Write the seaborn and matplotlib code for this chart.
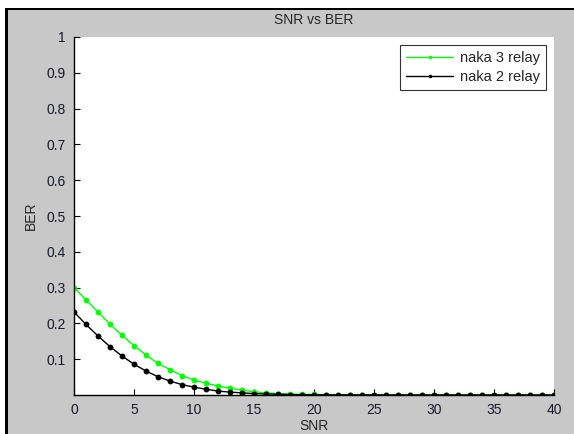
import matplotlib
matplotlib.use("Agg")
import matplotlib.pyplot as plt
import matplotlib.patches as mpatches
import seaborn as sns
import pandas as pd
import numpy as np

snr = list(range(0, 41))
naka3 = [0.300, 0.266, 0.232, 0.198, 0.167, 0.138, 0.112, 0.088, 0.071, 0.054,
         0.042, 0.033, 0.025, 0.019, 0.014, 0.009, 0.006, 0.004, 0.003, 0.002,
         0.0015, 0.001, 0.0008, 0.0006, 0.0005, 0.0004, 0.0003, 0.0002, 0.0002, 0.0001,
         0.0001, 0.0001, 0.0, 0.0, 0.0, 0.0, 0.0, 0.0, 0.0, 0.0, 0.0]
naka2 = [0.232, 0.197, 0.165, 0.135, 0.109, 0.086, 0.067, 0.051, 0.039, 0.029,
         0.022, 0.016, 0.011, 0.008, 0.006, 0.004, 0.003, 0.002, 0.001, 0.0008,
         0.0005, 0.0003, 0.0002, 0.0001, 0.0001, 0.0, 0.0, 0.0, 0.0, 0.0,
         0.0, 0.0, 0.0, 0.0, 0.0, 0.0, 0.0, 0.0, 0.0, 0.0, 0.0]
series_names = ["naka 3 relay", "naka 2 relay"]
xticks = [0, 5, 10, 15, 20, 25, 30, 35, 40]
yticks = [0.1, 0.2, 0.3, 0.4, 0.5, 0.6, 0.7, 0.8, 0.9, 1.0]
ytick_labels = ["0.1", "0.2", "0.3", "0.4", "0.5", "0.6", "0.7", "0.8", "0.9", "1"]

sns.set_theme(style="white")
plt.rcParams['font.family'] = ['Liberation Sans', 'DejaVu Sans']

W, H = 574, 434
fig = plt.figure(figsize=(W / 100, H / 100), dpi=100, facecolor="white")

def px_rect(x0, y0, x1, y1, color):
    fig.add_artist(mpatches.Rectangle((x0 / W, 1 - y1 / H), (x1 - x0) / W, (y1 - y0) / H,
                                      transform=fig.transFigure, facecolor=color,
                                      edgecolor="none", zorder=-10))

px_rect(5, 8, W, H, "#c8c8c8")
px_rect(5, 8, 8, H, "black")
px_rect(5, 8, W, 10, "black")

ax = fig.add_axes([74 / W, (H - 395) / H, (554 - 74) / W, (395 - 37) / H])
ax.set_facecolor("white")

df3 = pd.DataFrame({"SNR": snr, "BER": naka3})
df2 = pd.DataFrame({"SNR": snr, "BER": naka2})
sns.lineplot(data=df3, x="SNR", y="BER", ax=ax, color="#00ff00", lw=1,
             marker="o", markersize=4.2, markeredgewidth=0, label=series_names[0])
sns.lineplot(data=df2, x="SNR", y="BER", ax=ax, color="black", lw=1,
             marker="o", markersize=4.2, markeredgewidth=0, label=series_names[1])

ax.set_xlim(0, 40)
ax.set_ylim(0, 1)
ax.set_xticks(xticks)
ax.set_yticks(yticks)
ax.set_yticklabels(ytick_labels)
for s in ["top", "right"]:
    ax.spines[s].set_visible(False)
for s in ["left", "bottom"]:
    ax.spines[s].set_color("black")
    ax.spines[s].set_linewidth(1)
ax.tick_params(direction="in", length=4, width=0.8, colors="black", labelsize=10,
               left=True, bottom=True, pad=6)
for lab in ax.get_xticklabels() + ax.get_yticklabels():
    lab.set_color("#1a1a2e")
ax.set_xlabel("SNR", fontsize=10, labelpad=1)
ax.set_ylabel("BER", fontsize=10, labelpad=6)
ax.set_title("SNR vs BER", fontsize=10, pad=9)

leg = ax.legend(loc="upper right", frameon=True, fancybox=False, fontsize=10.5,
                borderaxespad=0.55, handlelength=3.2, handletextpad=0.5,
                borderpad=0.4, labelspacing=0.35, markerscale=0.6)
leg.get_frame().set_edgecolor("black")
leg.get_frame().set_linewidth(0.8)

fig.savefig("out.png", dpi=100, facecolor=fig.get_facecolor())
